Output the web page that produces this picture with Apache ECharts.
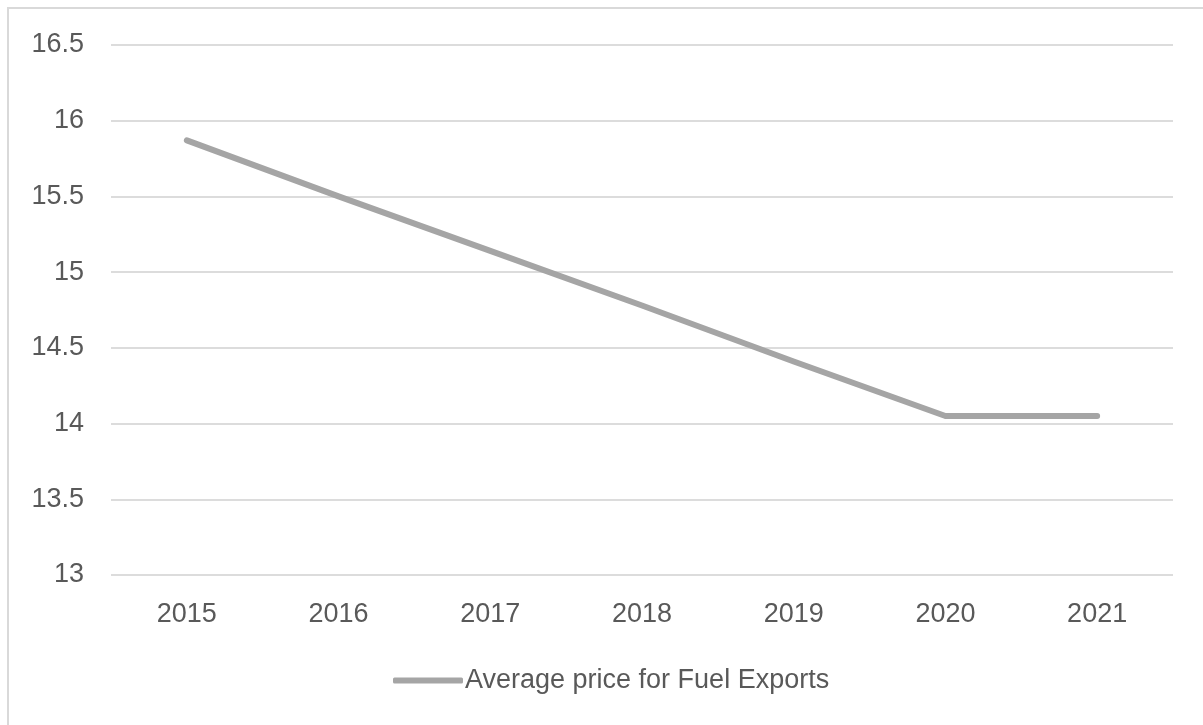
<!DOCTYPE html>
<html>
<head>
<meta charset="utf-8">
<script src="https://cdn.jsdelivr.net/npm/echarts@6/dist/echarts.min.js"></script>
<style>
html,body{margin:0;padding:0;background:#fff;}
#chart{width:1203px;height:725px;}
</style>
</head>
<body>
<div id="chart"></div>
<script>
const categories = ['2015', '2016', '2017', '2018', '2019', '2020', '2021'];
const seriesName = 'Average price for Fuel Exports';
const values = [15.87, 15.5, 15.14, 14.78, 14.41, 14.05, 14.05];
const yMin = 13, yMax = 16.5, yStep = 0.5;

const textColor = '#595959';
const fontFamily = '"Liberation Sans", Arial, sans-serif';
const chart = echarts.init(document.getElementById('chart'), null, {renderer: 'canvas'});
chart.setOption({
  backgroundColor: '#ffffff',
  animation: false,
  graphic: [{
    type: 'rect',
    shape: {x: 8, y: 8, width: 1400, height: 900},
    style: {fill: 'none', stroke: '#d9d9d9', lineWidth: 2},
    silent: true,
    z: -1
  }],
  grid: {left: 111, right: 30, top: 45, bottom: 150, containLabel: false},
  legend: {
    data: [{name: seriesName, icon: 'roundRect'}],
    left: 393, top: 667, padding: 0,
    itemWidth: 70, itemHeight: 6, itemGap: 0,
    textStyle: {color: textColor, fontSize: 27, fontFamily: fontFamily, padding: [0, 0, 0, -3]}
  },
  xAxis: {
    type: 'category',
    data: categories,
    boundaryGap: true,
    axisLine: {show: false},
    axisTick: {show: false},
    axisLabel: {color: textColor, fontSize: 27, fontFamily: fontFamily, margin: 26}
  },
  yAxis: {
    type: 'value',
    min: yMin, max: yMax, interval: yStep,
    axisLine: {show: false},
    axisTick: {show: false},
    axisLabel: {color: textColor, fontSize: 27, fontFamily: fontFamily, margin: 27},
    splitLine: {lineStyle: {color: '#dcdcdc', width: 2}}
  },
  series: [{
    name: seriesName,
    type: 'line',
    data: values,
    symbol: 'none',
    lineStyle: {color: '#a5a5a5', width: 6, cap: 'round', join: 'round'},
    itemStyle: {color: '#a5a5a5'}
  }]
});
</script>
</body>
</html>
